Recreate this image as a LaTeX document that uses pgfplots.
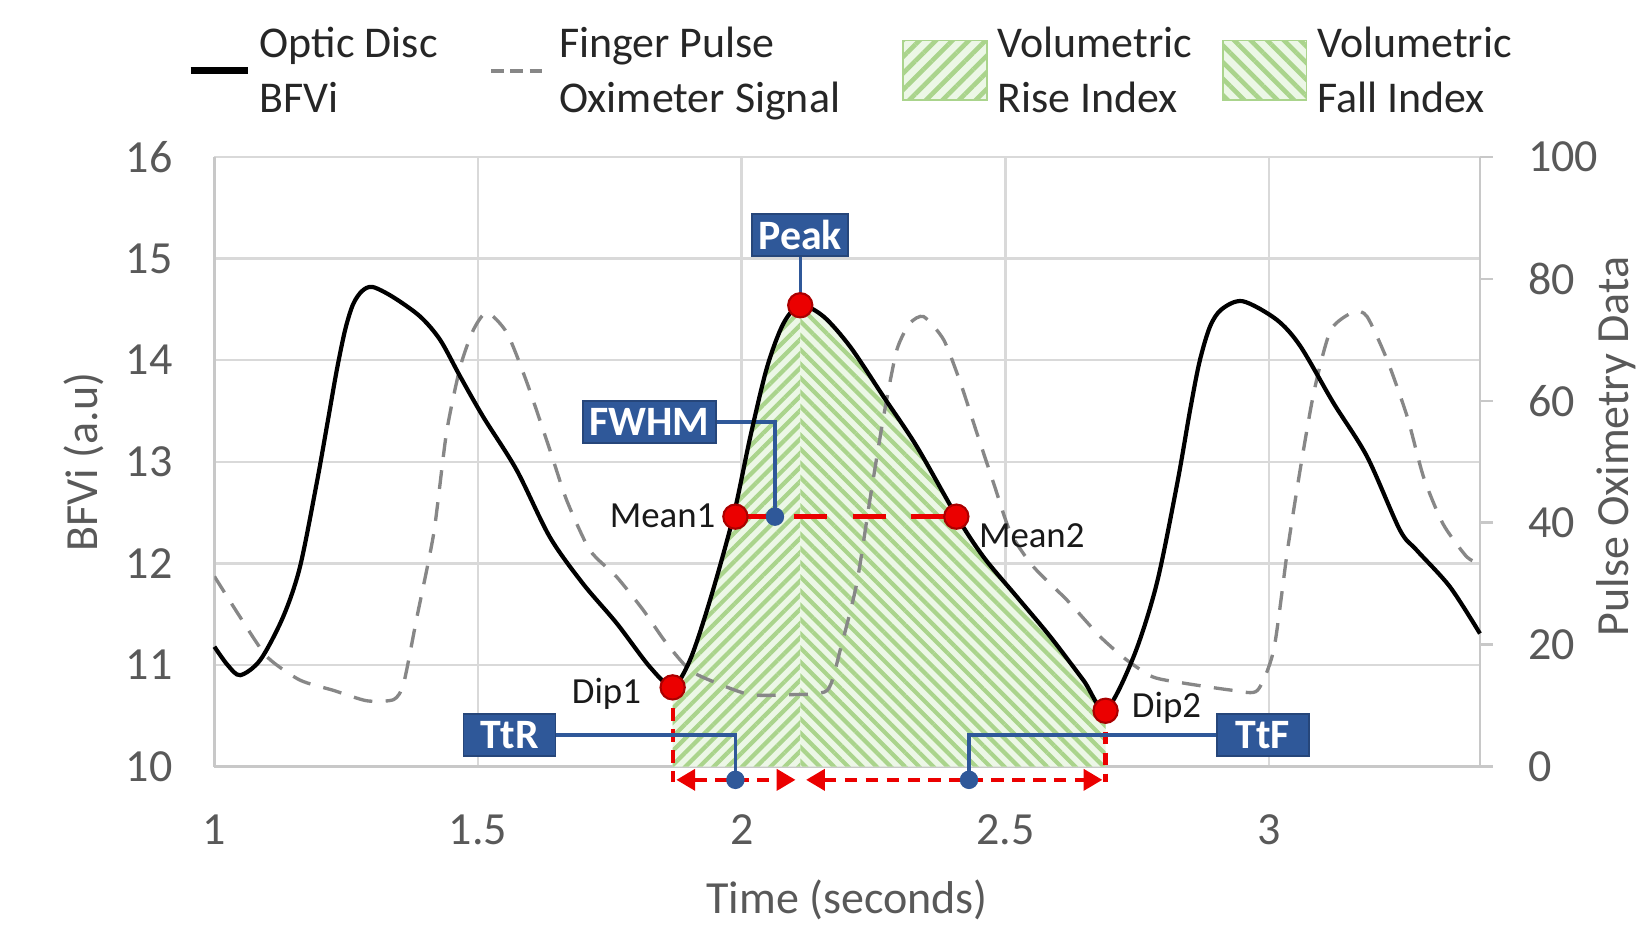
\documentclass[border=0pt]{standalone}
\usepackage{fontspec}
\setmainfont{Carlito}
\usepackage{pgfplots}
\pgfplotsset{compat=1.18}
\usetikzlibrary{patterns.meta,arrows.meta}
\definecolor{boxblue}{RGB}{47,88,153}
\definecolor{hatchgreen}{RGB}{170,212,140}
\definecolor{fillgreen}{RGB}{236,247,230}
\definecolor{gridgray}{RGB}{217,217,217}
\definecolor{axisgray}{RGB}{200,200,200}
\definecolor{textgray}{RGB}{89,89,89}
\definecolor{pulsegray}{RGB}{135,135,135}
\definecolor{mkred}{RGB}{235,0,0}
\definecolor{mkdark}{RGB}{170,0,0}
\pgfplotsset{
  base/.style={width=302.5pt, height=145.75pt, scale only axis, xmin=1, xmax=3.4},
  lineleg/.style={legend image code/.code={\draw[##1] (0pt,0.5pt) -- (13.75pt,0.5pt);}},
  boxleg/.style={legend image code/.code={\draw[##1] (0pt,-6.5pt) rectangle (20pt,7.75pt);}},
}
\tikzset{abox/.style={fill=boxblue, draw=boxblue!80!black, line width=0.4pt, text=white, font=\bfseries\fontsize{10}{12}\selectfont, inner xsep=1.5pt, inner ysep=1.2pt, minimum height=10pt},
  lead/.style={boxblue, line width=0.8pt},
  plab/.style={font=\fontsize{8.8}{10}\selectfont, text=black!90}}
\begin{document}
\begin{tikzpicture}[font=\fontsize{11}{13}\selectfont]
% ---------- axis 1: left axis, grid, areas
\begin{axis}[base, ymin=10, ymax=16,
  axis x line*=bottom, axis y line*=left,
  axis line style={axisgray, line width=0.6pt},
  xtick={1,1.5,2,2.5,3}, ytick={10,11,12,13,14,15,16},
  grid=major, grid style={gridgray, line width=0.6pt},
  major tick length=0pt,
  /pgf/number format/assume math mode=true,
  tick label style={text=textgray, font=\fontsize{11}{13}\selectfont},
  xticklabel style={yshift=-8pt},
  yticklabel style={xshift=-6.5pt},
  xlabel={Time (seconds)}, ylabel={BFVi (a.u)},
  every axis x label/.style={at={(axis description cs:0.5,-0.2178)}, anchor=center, text=textgray},
  every axis y label/.style={at={(axis description cs:-0.1033,0.5)}, rotate=90, anchor=center, text=textgray},
]
\coordinate (O) at (rel axis cs:0,0);
\addplot[draw=none, fill=fillgreen, postaction={pattern={Lines[angle=45,distance=2.4pt,line width=1pt]}, pattern color=hatchgreen}] coordinates {
(1.869,10) (1.869,10.79) (1.902,11.05) (1.94,11.64) (1.984,12.46) (2.016,13.24) (2.048,13.93) (2.079,14.36) (2.111,14.54) (2.111,10)};
\addplot[draw=none, fill=fillgreen, postaction={pattern={Lines[angle=-45,distance=2.4pt,line width=1pt]}, pattern color=hatchgreen}] coordinates {
(2.111,10) (2.111,14.54) (2.155,14.43) (2.206,14.13) (2.269,13.64) (2.332,13.15) (2.408,12.46) (2.459,12.06) (2.522,11.67) (2.585,11.28) (2.648,10.85) (2.69,10.56) (2.69,10)};
\end{axis}
% ---------- axis 2: right axis, pulse oximeter
\begin{axis}[base, ymin=0, ymax=100,
  axis y line*=right, axis x line=none,
  y axis line style={axisgray, line width=0.6pt},
  ytick={0,20,40,60,80,100},
  tick align=outside, major tick length=3pt, tick style={axisgray, line width=0.6pt},
  /pgf/number format/assume math mode=true,
  tick label style={text=textgray, font=\fontsize{11}{13}\selectfont},
  yticklabel style={xshift=5pt},
  ylabel={Pulse Oximetry Data},
  every axis y label/.style={at={(axis description cs:1.1074,0.525)}, rotate=90, anchor=center, text=textgray},
]
\addplot[pulsegray, line width=0.8pt, dash pattern=on 4.5pt off 3.2pt, smooth, tension=0.4] coordinates {
(1.000,31.2) (1.049,24.5) (1.10,18.0) (1.162,14.2) (1.226,12.5) (1.289,10.8) (1.34,11.0) (1.359,13.7) (1.384,24.5) (1.416,38.3) (1.44,54.7) (1.466,65.5) (1.491,71.6) (1.517,74.5) (1.555,71.1) (1.593,62.9) (1.636,52.0) (1.668,43.7) (1.712,35.5) (1.763,31.1) (1.813,25.7) (1.855,20.5) (1.902,15.8) (1.953,13.7) (2.016,11.8) (2.092,11.8) (2.162,12.5) (2.187,19.2) (2.218,30.0) (2.243,43.7) (2.269,57.4) (2.294,68.3) (2.319,72.7) (2.345,73.8) (2.383,70.0) (2.415,62.9) (2.446,54.7) (2.478,46.4) (2.51,38.3) (2.553,32.8) (2.617,27.3) (2.68,21.3) (2.73,17.5) (2.78,14.7) (2.838,13.7) (2.933,12.5) (2.978,12.5) (3.009,19.2) (3.035,35.5) (3.06,49.2) (3.086,61.8) (3.117,71.6) (3.161,74.6) (3.186,73.8) (3.224,66.7) (3.262,57.4) (3.293,47.5) (3.33,39.8) (3.375,34.4) (3.40,33.3)};
\end{axis}
% ---------- axis 3: BFVi curve, annotations, legend
\begin{axis}[base, ymin=10, ymax=16, axis lines=none, clip=false,
  legend columns=4,
  legend style={at={(rel axis cs:-0.0221,1.2277)}, anchor=north west, draw=none, fill=none, inner sep=0pt,
    font=\fontsize{10.5}{13}\selectfont, text=black!85,
    cells={align=left, anchor=west},
    /tikz/every even column/.append style={column sep=4.75pt}},
]
\addlegendimage{lineleg, black, line width=1.6pt}
\addlegendentry{Optic Disc\hspace*{5.5pt}\\BFVi}
\addlegendimage{lineleg, pulsegray, line width=1pt, dash pattern=on 3pt off 1.6pt}
\addlegendentry{Finger Pulse\\Oximeter Signal\hspace*{7.75pt}}
\addlegendimage{boxleg, draw=hatchgreen, fill=fillgreen, postaction={pattern={Lines[angle=45,distance=2.8pt,line width=1.1pt]}, pattern color=hatchgreen}}
\addlegendentry{Volumetric\\Rise Index}
\addlegendimage{boxleg, draw=hatchgreen, fill=fillgreen, postaction={pattern={Lines[angle=-45,distance=2.8pt,line width=1.1pt]}, pattern color=hatchgreen}}
\addlegendentry{Volumetric\\Fall Index}
% red dashed guides
\addplot[forget plot, mkred, line width=1.1pt, dash pattern=on 8pt off 6pt] coordinates {(1.988,12.46) (2.407,12.46)};
\addplot[forget plot, mkred, line width=1pt, dash pattern=on 3pt off 2pt] coordinates {(1.869,10.78) (1.869,9.85)};
\addplot[forget plot, mkred, line width=1pt, dash pattern=on 3pt off 2pt] coordinates {(2.69,10.55) (2.69,9.85)};
\addplot[forget plot, mkred, line width=1pt, dash pattern=on 3pt off 2pt, {Triangle[length=4.5pt,width=5pt]}-{Triangle[length=4.5pt,width=5pt]}] coordinates {(1.876,9.87) (2.102,9.87)};
\addplot[forget plot, mkred, line width=1pt, dash pattern=on 3pt off 2pt, {Triangle[length=4.5pt,width=5pt]}-{Triangle[length=4.5pt,width=5pt]}] coordinates {(2.122,9.87) (2.684,9.87)};
% boxes and leaders
\node[abox] (peak) at (axis cs:2.111,15.23) {Peak};
\node[abox] (fwhm) at (axis cs:1.825,13.39) {FWHM};
\node[abox, minimum width=22pt] (ttr) at (axis cs:1.5595,10.31) {TtR};
\node[abox, minimum width=22pt] (ttf) at (axis cs:2.988,10.31) {TtF};
\draw[lead] (peak.south) -- (axis cs:2.111,14.54);
\draw[lead] (fwhm.east) -| (axis cs:2.063,12.46);
\draw[lead] (ttr.east) -| (axis cs:1.988,9.87);
\draw[lead] (ttf.west) -| (axis cs:2.431,9.87);
% BFVi curve
\addplot[forget plot, black, line width=1pt, smooth, tension=0.5] coordinates {
(1.000,11.18) (1.025,11.00) (1.049,10.90) (1.087,11.05) (1.13,11.47) (1.162,11.96) (1.194,12.79) (1.215,13.40) (1.232,13.90) (1.248,14.30) (1.263,14.55) (1.280,14.68) (1.30,14.72) (1.339,14.62) (1.39,14.43) (1.428,14.20) (1.466,13.84) (1.51,13.44) (1.573,12.92) (1.636,12.26) (1.699,11.80) (1.763,11.41) (1.826,10.98) (1.869,10.79) (1.902,11.05) (1.94,11.64) (1.984,12.46) (2.016,13.24) (2.048,13.93) (2.079,14.36) (2.111,14.54) (2.155,14.43) (2.206,14.13) (2.269,13.64) (2.332,13.15) (2.408,12.46) (2.459,12.06) (2.522,11.67) (2.585,11.28) (2.648,10.85) (2.69,10.56) (2.743,11.08) (2.787,11.80) (2.826,12.79) (2.850,13.50) (2.868,13.98) (2.888,14.33) (2.91,14.50) (2.95,14.58) (3.014,14.40) (3.059,14.14) (3.122,13.58) (3.186,13.05) (3.248,12.33) (3.28,12.13) (3.343,11.77) (3.40,11.31)};
% markers
\addplot[forget plot, only marks, mark=*, mark size=2.9pt, mark options={fill=mkred, draw=mkdark, line width=0.5pt}] coordinates {(2.111,14.54) (1.988,12.46) (2.407,12.46) (1.869,10.78) (2.69,10.55)};
\addplot[forget plot, only marks, mark=*, mark size=2pt, mark options={fill=boxblue, draw=boxblue}] coordinates {(2.063,12.46) (1.988,9.87) (2.431,9.87)};
% point labels
\node[anchor=east, plab] at (axis cs:1.837,10.72) {Dip1};
\node[anchor=west, plab] at (axis cs:2.712,10.58) {Dip2};
\node[anchor=east, plab] at (axis cs:1.978,12.47) {Mean1};
\node[anchor=west, plab] at (axis cs:2.422,12.27) {Mean2};
\end{axis}
\pgfresetboundingbox
\path[use as bounding box] ([shift={(-51.25pt,-38.25pt)}]O) rectangle ([shift={(340.75pt,183.25pt)}]O);
\end{tikzpicture}
\end{document}
